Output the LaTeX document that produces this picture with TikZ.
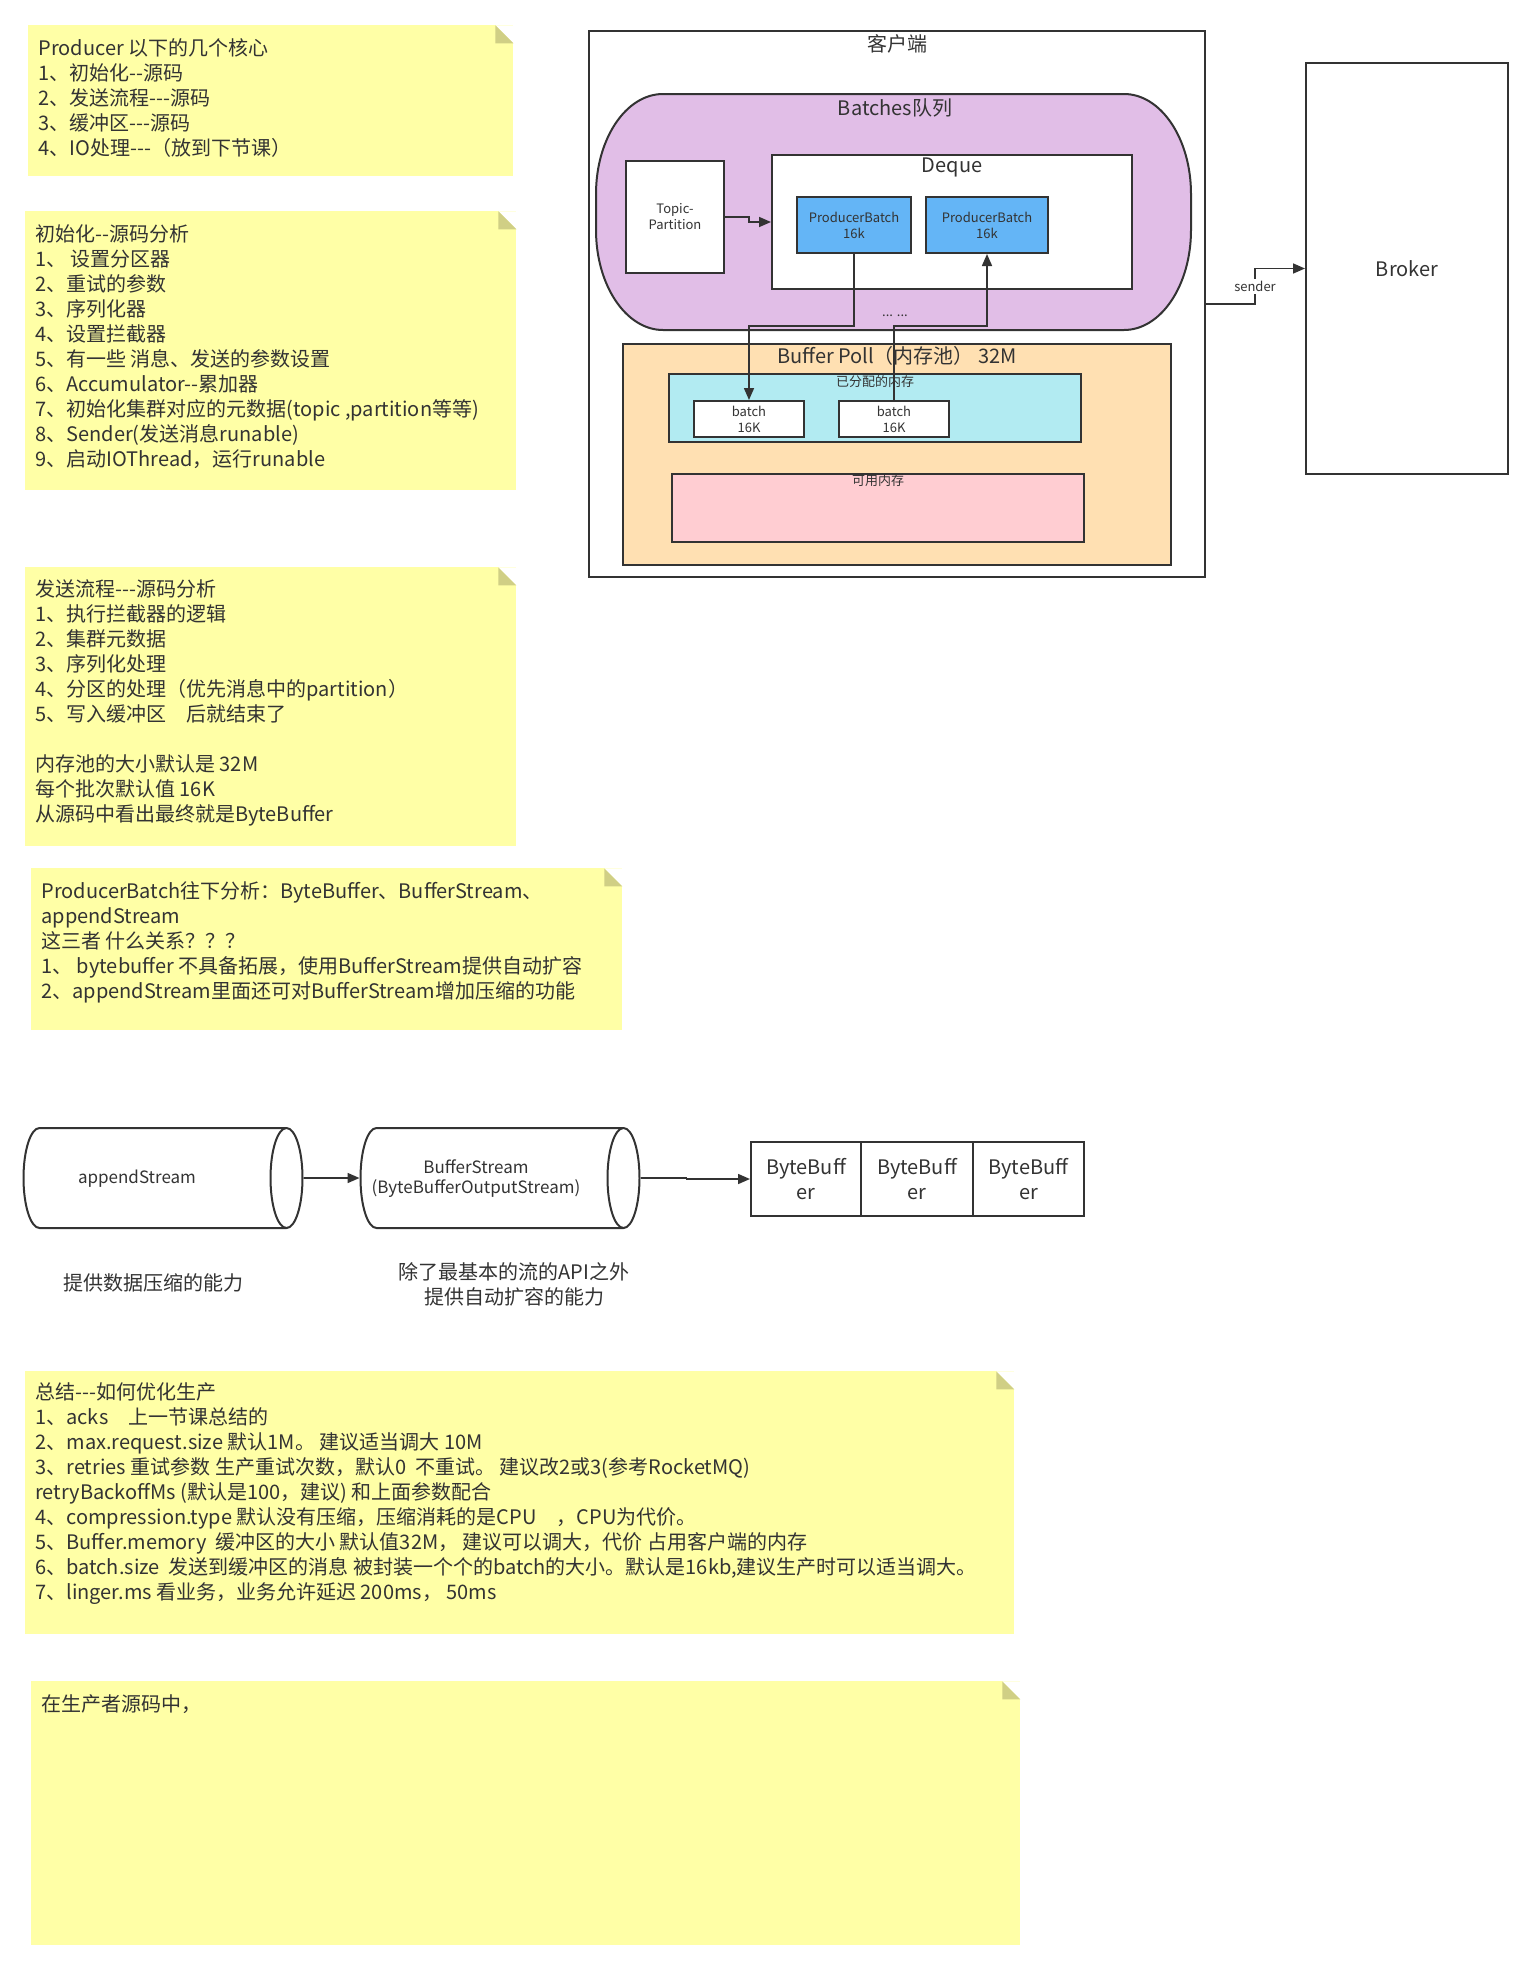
\documentclass[tikz,border=0pt]{standalone}
\usepackage{fontspec}
\setmainfont{Noto Sans CJK SC}[Ligatures=TeXOff]
\usetikzlibrary{arrows.meta,shapes.geometric,calc}
\definecolor{notebg}{HTML}{FFFFA6}
\definecolor{notefold}{HTML}{D0CF85}
\definecolor{inkgray}{HTML}{333333}
\definecolor{batchpurple}{HTML}{E1BEE7}
\definecolor{batchblue}{HTML}{64B5F6}
\definecolor{poolorange}{HTML}{FFE0B2}
\definecolor{alloccyan}{HTML}{B2EBF2}
\definecolor{freepink}{HTML}{FFCDD2}
\newcommand{\notefont}{\fontsize{10pt}{12.5pt}\selectfont}
\newcommand{\tagfont}{\fontsize{6.5pt}{8pt}\selectfont}

\begin{document}
\begin{tikzpicture}[
    x=0.5pt, y=-0.5pt,
    note/.style={rectangle,fill=notebg,inner sep=0pt,anchor=north west,
                 path picture={
                   \fill[white] ($(path picture bounding box.north east)+(-9pt,0pt)$)
                     -- (path picture bounding box.north east) -- ++(0pt,-9pt) -- cycle;
                   \fill[notefold] ($(path picture bounding box.north east)+(-9pt,0pt)$)
                     -- ++(0pt,-9pt) -- ++(9pt,0pt) -- cycle;}},
    notetext/.style={anchor=north west,align=left,inner sep=0pt,
                     font=\notefont,text=inkgray},
    box/.style={rectangle,draw=inkgray,line width=1pt,inner sep=0pt,
                text=inkgray,align=center},
    title/.style={font=\notefont,text=inkgray,inner sep=0pt},
    tag/.style={font=\tagfont,text=inkgray,inner sep=0pt,align=center},
    stream/.style={cylinder,shape aspect=2,draw=inkgray,line width=1pt,
                   fill=white,minimum width=50pt,minimum height=139.5pt,
                   inner sep=0pt},
    streamtext/.style={inner sep=0pt,text=inkgray,align=center,
                       font=\fontsize{8.5pt}{10pt}\selectfont},
    bbcell/.style={box,minimum height=37pt,font=\notefont},
    arr/.style={draw=inkgray,line width=0.8pt,-{Triangle[length=6pt,width=5pt]}},
  ]
    \fill[white] (0,0) rectangle (1533,1970);
    \useasboundingbox (0,0) rectangle (1533,1970);

    % notes on the left
    \node[note,minimum width=242.5pt,minimum height=75.5pt] (n1) at (28,25) {};
    \node[notetext] (n1t) at (38,38) {Producer 以下的几个核心\\
      1、初始化--源码\\
      2、发送流程---源码\\
      3、缓冲区---源码\\
      4、IO处理---（放到下节课）};

    \node[note,minimum width=245.5pt,minimum height=139.5pt] (n2) at (25,211) {};
    \node[notetext] (n2t) at (35,224) {初始化--源码分析\\
      1、 设置分区器\\
      2、重试的参数\\
      3、序列化器\\
      4、设置拦截器\\
      5、有一些 消息、发送的参数设置\\
      6、Accumulator--累加器\\
      7、初始化集群对应的元数据(topic ,partition等等)\\
      8、Sender(发送消息runable)\\
      9、启动IOThread，运行runable};

    \node[note,minimum width=245.5pt,minimum height=139.5pt] (n3) at (25,567) {};
    \node[notetext] (n3t) at (35,579) {发送流程---源码分析\\
      1、执行拦截器的逻辑\\
      2、集群元数据\\
      3、序列化处理\\
      4、分区的处理（优先消息中的partition）\\
      5、写入缓冲区\quad 后就结束了\\[12.5pt]
      内存池的大小默认是 32M\\
      每个批次默认值 16K\\
      从源码中看出最终就是ByteBuffer};

    \node[note,minimum width=295.5pt,minimum height=81pt] (n4) at (31,868) {};
    \node[notetext] (n4t) at (41,881) {ProducerBatch往下分析：ByteBuffer、BufferStream、\\
      appendStream\\
      这三者 什么关系？？？\\
      1、 bytebuffer 不具备拓展，使用BufferStream提供自动扩容\\
      2、appendStream里面还可对BufferStream增加压缩的功能};

    % stream chain
    \node[stream] (as) at (154.5,1178) {\rule{0pt}{8pt}};
    \node[streamtext] (astext) at (137,1179) {appendStream};
    \node[stream] (bs) at (491.5,1178) {\rule{0pt}{8pt}};
    \node[streamtext] (bstext) at (476,1179) {BufferStream\\(ByteBufferOutputStream)};
    \node[bbcell,minimum width=55pt] (bb1) at (806,1179) {ByteBuff\\er};
    \node[bbcell,minimum width=56pt] (bb2) at (917,1179) {ByteBuff\\er};
    \node[bbcell,minimum width=55.5pt] (bb3) at (1028.5,1179) {ByteBuff\\er};
    \node[title] (ascap) at (153,1283) {提供数据压缩的能力};
    \node[title,align=center] (bscap) at (514,1284) {除了最基本的流的API之外\\提供自动扩容的能力};
    \draw[arr] (as.east) -- (bs.west);
    \draw[arr] (bs.east) -- ++(46,0) |- (bb1.west);

    \node[note,minimum width=494.5pt,minimum height=131.5pt] (n5) at (25,1371) {};
    \node[notetext] (n5t) at (35,1382) {总结---如何优化生产\\
      1、acks\quad 上一节课总结的\\
      2、max.request.size 默认1M。 建议适当调大 10M\\
      3、retries 重试参数 生产重试次数，默认0 \ 不重试。 建议改2或3(参考RocketMQ)\\
      retryBackoffMs (默认是100，建议) 和上面参数配合\\
      4、compression.type 默认没有压缩，压缩消耗的是CPU\quad ，CPU为代价。\\
      5、Buffer.memory \ 缓冲区的大小 默认值32M， 建议可以调大，代价 占用客户端的内存\\
      6、batch.size \ 发送到缓冲区的消息 被封装一个个的batch的大小。默认是16kb,建议生产时可以适当调大。\\
      7、linger.ms 看业务，业务允许延迟 200ms， 50ms};

    \node[note,minimum width=494.5pt,minimum height=132pt] (n6) at (31,1681) {};
    \node[notetext] (n6t) at (41,1694) {在生产者源码中，};

    % client side
    \node[box,minimum width=308pt,minimum height=273pt] (client) at (897,304) {};
    \node[title] (clienttitle) at (897,44) {客户端};

    \filldraw[fill=batchpurple,draw=inkgray,line width=1pt]
      (663,94) -- (1124,94) arc[start angle=90,end angle=0,x radius=33.5pt,y radius=50pt]
      -- (1191,230) arc[start angle=0,end angle=-90,x radius=33.5pt,y radius=50pt]
      -- (663,330) arc[start angle=270,end angle=180,x radius=33.5pt,y radius=50pt]
      -- (596,194) arc[start angle=180,end angle=90,x radius=33.5pt,y radius=50pt] -- cycle;
    \node[title] (batchestitle) at (895,108) {Batches队列};

    \node[box,fill=white,minimum width=49pt,minimum height=56pt,font=\tagfont] (tp) at (675,217) {Topic-\\Partition};
    \node[box,fill=white,minimum width=180pt,minimum height=67pt] (dq) at (952,222) {};
    \node[title] (dqtitle) at (952,167) {Deque};
    \node[box,fill=batchblue,minimum width=57pt,minimum height=28pt,font=\tagfont] (pb1) at (854,225) {ProducerBatch\\16k};
    \node[box,fill=batchblue,minimum width=61pt,minimum height=28pt,font=\tagfont] (pb2) at (987,225) {ProducerBatch\\16k};
    \node[tag] (dots) at (895,316) {... ...};

    \node[box,fill=poolorange,minimum width=274pt,minimum height=110.5pt] (bp) at (897,454.5) {};
    \node[title] (bptitle) at (897,356) {Buffer Poll（内存池） 32M};
    \node[box,fill=alloccyan,minimum width=206pt,minimum height=34pt] (alloc) at (875,408) {};
    \node[tag] (alloctitle) at (875,382) {已分配的内存};
    \node[box,fill=white,minimum width=55pt,minimum height=18pt,font=\tagfont] (b1) at (749,419) {batch\\16K};
    \node[box,fill=white,minimum width=55pt,minimum height=18pt,font=\tagfont] (b2) at (894,419) {batch\\16K};
    \node[box,fill=freepink,minimum width=206pt,minimum height=34pt] (free) at (878,508) {};
    \node[tag] (freetitle) at (878,481) {可用内存};

    \node[box,minimum width=101pt,minimum height=205.5pt,font=\notefont] (broker) at (1407,268.5) {Broker};

    % connectors
    \coordinate (jog) at (0,326);
    \draw[arr] (tp.east) -- ++(24,0) |- (dq.west);
    \draw[arr] (pb1.south) -- (pb1.south |- jog) -| (b1.north);
    \draw[arr] (b2.north) -- (b2.north |- jog) -| (pb2.south);
    \draw[arr] (client.east) -- ++(49,0) |- node[pos=0.25,tag,fill=white,inner sep=1pt] (senderlbl) {sender} (broker.west);
  \end{tikzpicture}
\end{document}
